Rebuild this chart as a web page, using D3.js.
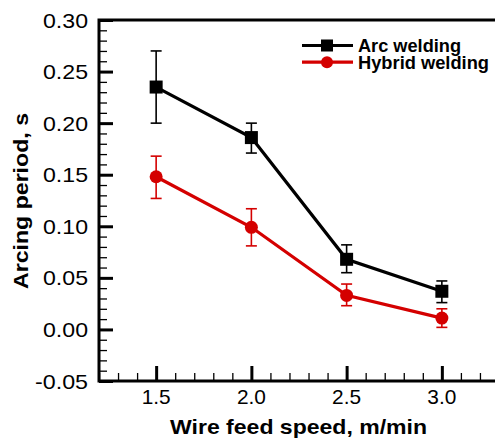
<!DOCTYPE html>
<html><head><meta charset="utf-8">
<script src="https://cdn.jsdelivr.net/npm/d3@7"></script>
<style>html,body{margin:0;padding:0;background:#fff;}svg{display:block;font-family:"Liberation Sans",Arial,sans-serif;}</style>
</head><body>
<svg id="c" width="495" height="438"></svg>
<script>
const speeds = [1.5, 2.0, 2.5, 3.0];
const arcValues = [0.235, 0.186, 0.068, 0.037];
const arcUpper  = [0.270, 0.200, 0.082, 0.047];
const arcLower  = [0.200, 0.171, 0.055, 0.026];
const hybValues = [0.148, 0.099, 0.033, 0.011];
const hybUpper  = [0.168, 0.117, 0.044, 0.020];
const hybLower  = [0.127, 0.081, 0.023, 0.002];
const xTicks = [1.5, 2.0, 2.5, 3.0];
const yTicks = [-0.05, 0, 0.05, 0.10, 0.15, 0.20, 0.25, 0.30];
const xTickLabels = ["1.5", "2.0", "2.5", "3.0"];
const yTickLabels = ["-0.05", "0.00", "0.05", "0.10", "0.15", "0.20", "0.25", "0.30"];
const seriesNames = ["Arc welding", "Hybrid welding"];
const xTitle = "Wire feed speed, m/min";
const yTitle = "Arcing period, s";

const svg = d3.select("#c");
const L = 99, R = 499, T = 20, B = 381;
const x = d3.scaleLinear().domain([1.2, 3.3]).range([L, R]);
const y = d3.scaleLinear().domain([-0.05, 0.30]).range([B, T]);
const red = "#d40000";

const yMinor = d3.range(-50, 301, 10).map(v => v / 1000).filter(v => Math.abs(Math.round(v*1000) % 50) !== 0);
const xMinor = d3.range(12, 34, 1).map(v => v / 10).filter(v => Math.round(v*10) % 5 !== 0);

const g = svg.append("g");
const yAxis = g.append("g").attr("transform", `translate(${L},0)`)
  .call(d3.axisRight(y).tickValues(yTicks).tickSize(14).tickFormat(""));
yAxis.selectAll(".tick line").attr("stroke", "#000").attr("stroke-width", 3);
yAxis.select(".domain").remove();
const yAxisMin = g.append("g").attr("transform", `translate(${L},0)`)
  .call(d3.axisRight(y).tickValues(yMinor).tickSize(8).tickFormat(""));
yAxisMin.selectAll(".tick line").attr("stroke", "#000").attr("stroke-width", 1.3);
yAxisMin.select(".domain").remove();
g.selectAll(".ylab").data(yTicks).enter().append("text")
  .attr("x", 88).attr("y", d => y(d) + 7.5)
  .attr("text-anchor", "end").attr("font-size", 21).attr("fill", "#000")
  .attr("textLength", (d, i) => yTickLabels[i].length === 5 ? 53 : 45)
  .attr("lengthAdjust", "spacingAndGlyphs")
  .text((d, i) => yTickLabels[i]);

const xAxis = g.append("g").attr("transform", `translate(0,${B})`)
  .call(d3.axisTop(x).tickValues(xTicks).tickSize(15).tickFormat(""));
xAxis.selectAll(".tick line").attr("stroke", "#000").attr("stroke-width", 3);
xAxis.select(".domain").remove();
const xAxisMin = g.append("g").attr("transform", `translate(0,${B})`)
  .call(d3.axisTop(x).tickValues(xMinor).tickSize(8).tickFormat(""));
xAxisMin.selectAll(".tick line").attr("stroke", "#000").attr("stroke-width", 1.3);
xAxisMin.select(".domain").remove();
g.selectAll(".xlab").data(xTicks).enter().append("text")
  .attr("x", d => x(d)).attr("y", 403.5)
  .attr("text-anchor", "middle").attr("font-size", 21).attr("fill", "#000")
  .attr("textLength", 29).attr("lengthAdjust", "spacingAndGlyphs")
  .text((d, i) => xTickLabels[i]);

g.append("rect").attr("x", L).attr("y", T).attr("width", R - L).attr("height", B - T)
  .attr("fill", "none").attr("stroke", "#000").attr("stroke-width", 3);

svg.append("text").attr("x", 298.5).attr("y", 434).attr("text-anchor", "middle")
  .attr("font-size", 21).attr("font-weight", "bold")
  .attr("textLength", 257).attr("lengthAdjust", "spacingAndGlyphs").text(xTitle);
svg.append("text").attr("transform", "translate(28,201) rotate(-90)").attr("text-anchor", "middle")
  .attr("font-size", 21).attr("font-weight", "bold")
  .attr("textLength", 176).attr("lengthAdjust", "spacingAndGlyphs").text(yTitle);

const series = [
  {name: seriesNames[0], vals: arcValues, up: arcUpper, lo: arcLower, color: "#000", shape: "square", w: 103},
  {name: seriesNames[1], vals: hybValues, up: hybUpper, lo: hybLower, color: red, shape: "circle", w: 131}
];
const line = d3.line().x(d => x(d[0])).y(d => y(d[1]));

series.forEach(s => {
  const pts = speeds.map((v, i) => [v, s.vals[i], s.up[i], s.lo[i]]);
  const eb = g.append("g").attr("stroke", s.color).attr("stroke-width", 1.6);
  pts.forEach(p => {
    eb.append("line").attr("x1", x(p[0])).attr("x2", x(p[0])).attr("y1", y(p[2])).attr("y2", y(p[3]));
    eb.append("line").attr("x1", x(p[0]) - 5.5).attr("x2", x(p[0]) + 5.5).attr("y1", y(p[2])).attr("y2", y(p[2]));
    eb.append("line").attr("x1", x(p[0]) - 5.5).attr("x2", x(p[0]) + 5.5).attr("y1", y(p[3])).attr("y2", y(p[3]));
  });
  g.append("path").datum(pts).attr("d", line).attr("fill", "none")
    .attr("stroke", s.color).attr("stroke-width", 3.2);
  pts.forEach(p => {
    if (s.shape === "square") {
      g.append("rect").attr("x", x(p[0]) - 6.5).attr("y", y(p[1]) - 6.5)
        .attr("width", 13).attr("height", 13).attr("fill", s.color);
    } else {
      g.append("circle").attr("cx", x(p[0])).attr("cy", y(p[1])).attr("r", 6.5).attr("fill", s.color);
    }
  });
});

const leg = svg.append("g");
series.forEach((s, i) => {
  const ly = 45.5 + i * 16.7;
  leg.append("line").attr("x1", 302).attr("x2", 353).attr("y1", ly).attr("y2", ly)
    .attr("stroke", s.color).attr("stroke-width", 3.2);
  if (s.shape === "square") {
    leg.append("rect").attr("x", 327 - 6).attr("y", ly - 6).attr("width", 12).attr("height", 12).attr("fill", s.color);
  } else {
    leg.append("circle").attr("cx", 327).attr("cy", ly).attr("r", 6).attr("fill", s.color);
  }
  leg.append("text").attr("x", 358).attr("y", ly + 6.5).attr("font-size", 18)
    .attr("font-weight", "bold").attr("fill", "#000")
    .attr("textLength", s.w).attr("lengthAdjust", "spacingAndGlyphs").text(s.name);
});
</script>
</body></html>
